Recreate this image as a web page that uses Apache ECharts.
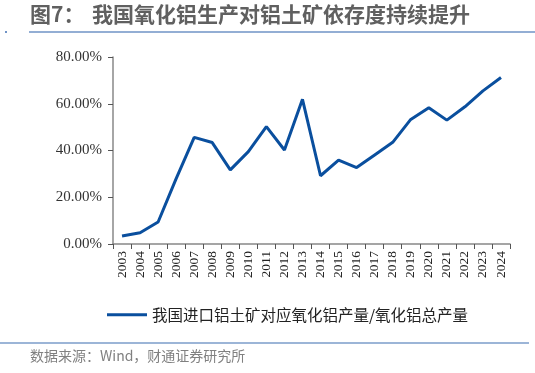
<!DOCTYPE html>
<html><head><meta charset="utf-8">
<script src="https://cdn.jsdelivr.net/npm/echarts@6/dist/echarts.min.js"></script>
<style>html,body{margin:0;padding:0;background:#fff;}#c{width:535px;height:373px;}</style>
</head><body><div id="c"></div>
<script>
const years = ['2003','2004','2005','2006','2007','2008','2009','2010','2011','2012','2013','2014','2015','2016','2017','2018','2019','2020','2021','2022','2023','2024'];
const ratio = [3.4,4.8,9.4,28.0,45.6,43.4,31.7,39.5,50.2,40.2,61.9,29.2,35.9,32.7,38.1,43.5,53.3,58.3,53.0,58.7,65.5,71.2];
const seriesName = '我国进口铝土矿对应氧化铝产量/氧化铝总产量';
const titleLead = '图7：';
const titleText = '我国氧化铝生产对铝土矿依存度持续提升';
const sourceText = '数据来源：Wind，财通证券研究所';

const chart = echarts.init(document.getElementById('c'));
chart.setOption({
  animation:false,
  backgroundColor:'#fff',
  graphic:[
    {type:'text',left:30,top:4,style:{text:titleLead,font:'bold 21px "Noto Sans CJK SC"',fill:'#606060'}},
    {type:'text',left:92,top:4,style:{text:titleText,font:'bold 21px "Noto Sans CJK SC"',fill:'#606060'}},
    {type:'line',shape:{x1:29,y1:32,x2:535,y2:32},style:{stroke:'#6f93c6',lineWidth:1.5}},
    {type:'rect',shape:{x:5,y:31,width:2,height:2},style:{fill:'#6f93c6'}},
    {type:'line',shape:{x1:0,y1:343,x2:529,y2:343},style:{stroke:'#3a6db0',lineWidth:1.2}},
    {type:'text',left:30,top:349,style:{text:sourceText,font:'14px "Noto Sans CJK SC"',fill:'#808080'}}
  ],
  grid:{left:113,right:25,top:57,bottom:129,containLabel:false},
  legend:{
    data:[seriesName],left:102,top:302,itemWidth:40,itemHeight:3,itemGap:6,
    icon:'rect',
    textStyle:{fontFamily:'"Noto Sans CJK SC"',fontSize:15.5,color:'#222'}
  },
  xAxis:{
    type:'category',data:years,boundaryGap:true,
    axisLine:{lineStyle:{color:'#888',width:1.5}},
    axisTick:{show:true,interval:0,length:5,lineStyle:{color:'#555'}},
    axisLabel:{interval:0,rotate:90,fontFamily:'"Liberation Serif"',fontSize:13.5,color:'#222',margin:7}
  },
  yAxis:{
    type:'value',min:0,max:80,interval:20,
    axisLine:{show:true,lineStyle:{color:'#888',width:1.5}},
    axisTick:{show:true,length:5,lineStyle:{color:'#555'}},
    splitLine:{show:false},
    axisLabel:{formatter:v=>v.toFixed(2)+'%',fontFamily:'"Liberation Serif"',fontSize:15,color:'#333',margin:11}
  },
  series:[{
    name:seriesName,type:'line',data:ratio,symbol:'none',
    lineStyle:{color:'#0a4f9e',width:3},itemStyle:{color:'#0a4f9e'}
  }]
});
</script></body></html>
